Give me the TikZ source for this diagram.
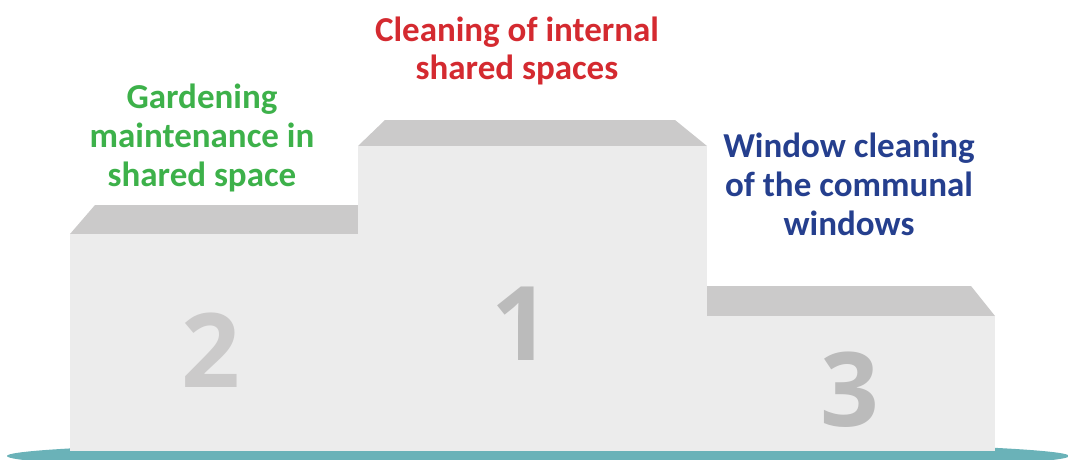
\documentclass[tikz,border=0pt]{standalone}
\usepackage{fontspec}
\setmainfont{Carlito}
\newfontfamily\numfont{Open Sans}
\definecolor{frontc}{HTML}{ECECEC}
\definecolor{topc}{HTML}{CBCACA}
\definecolor{numa}{HTML}{CBCACA}
\definecolor{numb}{HTML}{BBBBBB}
\definecolor{basec}{HTML}{6AB2B8}
\definecolor{redc}{HTML}{D42A30}
\definecolor{greenc}{HTML}{3DB14A}
\definecolor{bluec}{HTML}{253F8E}
\tikzset{
  front/.style={fill=frontc},
  topface/.style={fill=topc},
  label/.style={font=\fontsize{35}{39}\selectfont\bfseries, align=center, anchor=base, inner sep=0pt},
  place/.style={font=\numfont\fontsize{103}{103}\selectfont\bfseries, anchor=base, inner sep=0pt}
}
\begin{document}
\begin{tikzpicture}[x=1pt,y=-1pt]
\useasboundingbox (0,0) rectangle (1068,460);
\clip (0,0) rectangle (1068,460);
% base ellipse
\fill[basec] (538,456) ellipse [x radius=531, y radius=16];
% podium 2
\path[topface] (70,234) -- (95,205) -- (358,205) -- (358,234) -- cycle;
\path[front] (70,234) rectangle (358,451);
% podium 1
\path[topface] (358,146) -- (385,120) -- (675,120) -- (707,146) -- cycle;
\path[front] (358,146) rectangle (707,451);
% podium 3
\path[topface] (707,316) -- (707,286) -- (971,286) -- (995,316) -- cycle;
\path[front] (707,316) rectangle (995,451);
% numbers
\node[place, text=numa] (n2) at (211,387) {2};
\node[place, text=numb] (n1) at (521,360) {1};
\node[place, text=numb] (n3) at (850,426) {3};
% labels
\node[label, text=redc] (l1) at (517,80) {Cleaning of internal\\shared spaces};
\node[label, text=greenc] (l2) at (202,186) {Gardening\\maintenance in\\shared space};
\node[label, text=bluec] (l3) at (849,235) {Window cleaning\\of the communal\\windows};
\end{tikzpicture}
\end{document}
